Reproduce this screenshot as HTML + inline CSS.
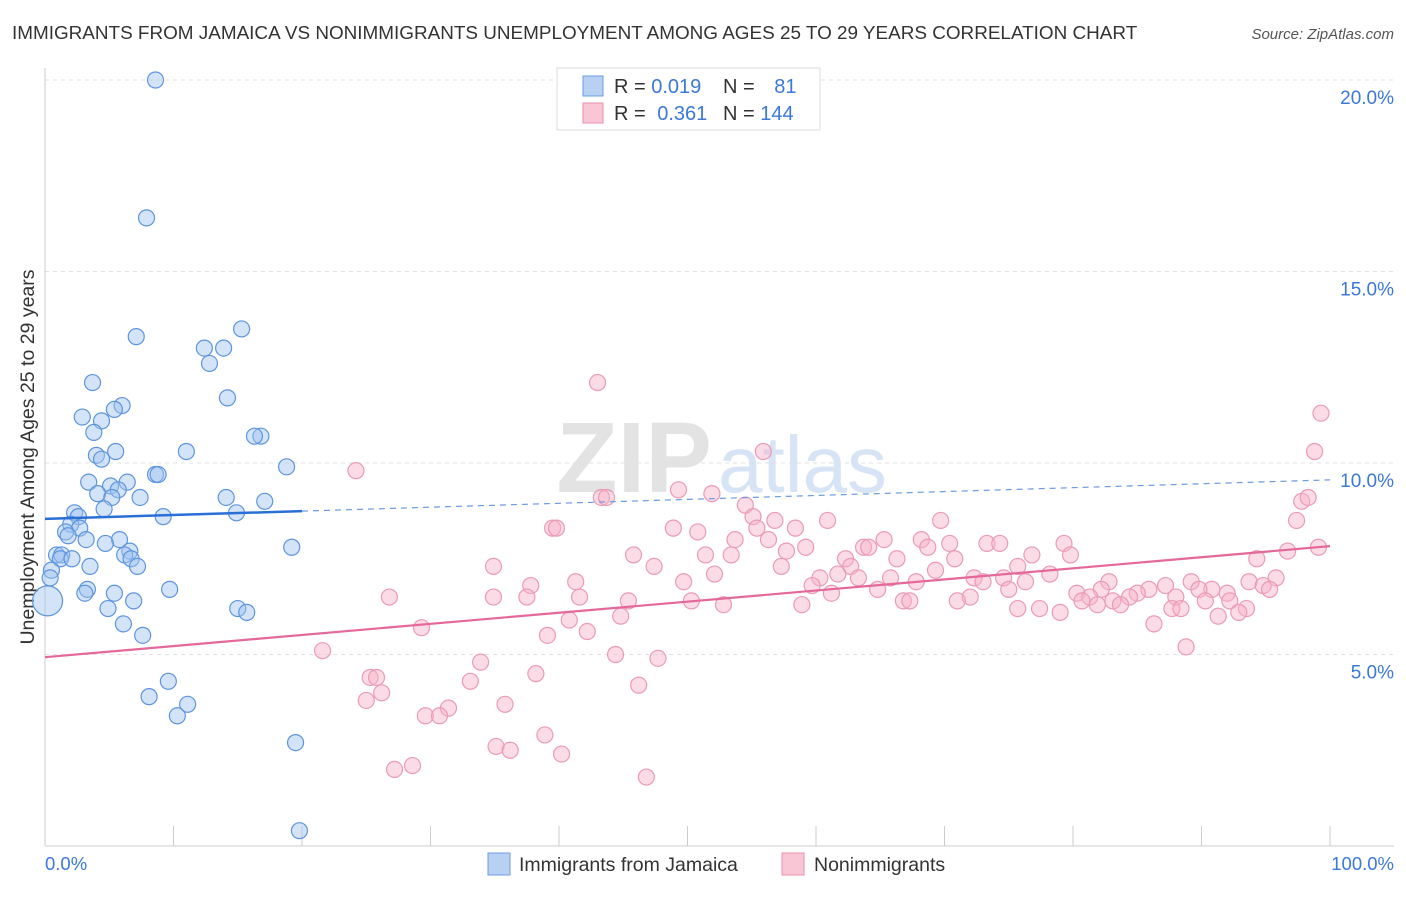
<!DOCTYPE html>
<html><head><meta charset="utf-8"><style>
body{margin:0;background:#fff;font-family:"Liberation Sans",sans-serif;}
svg text{font-family:"Liberation Sans",sans-serif;}
</style></head><body>
<svg width="1406" height="892" id="chart">
<text x="12" y="39" font-size="18.9" fill="#333">IMMIGRANTS FROM JAMAICA VS NONIMMIGRANTS UNEMPLOYMENT AMONG AGES 25 TO 29 YEARS CORRELATION CHART</text>
<text x="1394" y="39" font-size="15" fill="#555" font-style="italic" text-anchor="end">Source: ZipAtlas.com</text>
<text x="712" y="492" font-size="100" fill="#e3e3e3" text-anchor="end" font-family="Liberation Serif" font-weight="bold">ZIP</text>
<text x="718" y="492" font-size="80" fill="#d6e4f5">atlas</text>
<g id="grid"></g>
<line x1="45" y1="68" x2="45" y2="846" stroke="#ccc"/>
<line x1="45" y1="846" x2="1394" y2="846" stroke="#ccc"/>
<text x="34" y="457" font-size="19.5" fill="#333" text-anchor="middle" transform="rotate(-90 34 457)">Unemployment Among Ages 25 to 29 years</text>
<text x="45" y="870" font-size="18.5" fill="#3b78d8">0.0%</text>
<text x="1394" y="870" font-size="18.5" fill="#3b78d8" text-anchor="end">100.0%</text>
<g id="pts"></g>
<g id="trend"></g>
<g>
<rect x="557" y="68" width="263" height="62" fill="#fff" stroke="#ddd"/>
<rect x="583" y="76" width="20" height="20" fill="#b8d1f3" stroke="#6a9be0"/>
<rect x="583" y="103" width="20" height="20" fill="#f8c6d4" stroke="#ea8fab"/>
<text x="614" y="93" font-size="20" fill="#333">R = <tspan fill="#3b78d8">0.019</tspan></text>
<text x="723" y="93" font-size="20" fill="#333">N = <tspan fill="#3b78d8" dx="14">81</tspan></text>
<text x="614" y="120" font-size="20" fill="#333">R = <tspan fill="#3b78d8" dx="6">0.361</tspan></text>
<text x="723" y="120" font-size="20" fill="#333">N = <tspan fill="#3b78d8">144</tspan></text>
</g>
<g>
<rect x="488" y="853" width="22" height="22" fill="#b8d1f3" stroke="#6a9be0"/>
<text x="519" y="871" font-size="19.5" fill="#333">Immigrants from Jamaica</text>
<rect x="782" y="853" width="22" height="22" fill="#f8c6d4" stroke="#ea8fab"/>
<text x="814" y="871" font-size="19.5" fill="#333">Nonimmigrants</text>
</g>
</svg>
<script>
const yTicks=[5,10,15,20];
const xTicks=[10,20,30,40,50,60,70,80,90,100];
const blueX=[8.6,7.9,7.1,15.3,12.4,13.9,12.8,3.7,14.2,2.9,6.0,5.4,4.4,3.8,16.8,16.3,5.5,4.0,11.0,4.4,18.8,8.6,8.8,3.4,6.4,5.1,5.7,4.1,5.2,7.4,14.1,17.1,14.9,4.6,2.3,2.6,9.2,2.0,2.7,1.6,1.8,3.2,5.8,4.7,6.6,19.2,0.9,1.3,1.2,2.1,6.2,6.7,3.5,7.2,0.5,0.4,3.3,3.1,5.4,9.7,6.9,0.2,4.9,15.0,15.7,6.1,7.6,9.6,8.1,11.1,10.3,19.5,19.8];
const blueY=[20.0,16.4,13.3,13.5,13.0,13.0,12.6,12.1,11.7,11.2,11.5,11.4,11.1,10.8,10.7,10.7,10.3,10.2,10.3,10.1,9.9,9.7,9.7,9.5,9.5,9.4,9.3,9.2,9.1,9.1,9.1,9.0,8.7,8.8,8.7,8.6,8.6,8.4,8.3,8.2,8.1,8.0,8.0,7.9,7.7,7.8,7.6,7.6,7.5,7.5,7.6,7.5,7.3,7.3,7.2,7.0,6.7,6.6,6.6,6.7,6.4,6.4,6.2,6.2,6.1,5.8,5.5,4.3,3.9,3.7,3.4,2.7,0.4];
const pinkX=[43.0,99.3,98.8,55.9,24.2,43.3,43.7,49.3,51.9,97.8,98.3,54.5,55.1,56.8,60.9,69.7,97.4,39.5,39.8,48.9,50.8,55.4,58.4,53.7,56.3,65.3,68.2,73.3,74.3,79.3,59.2,57.7,63.7,64.1,68.7,70.4,96.7,99.1,45.8,51.4,53.4,62.3,66.3,70.8,76.8,79.8,94.3,34.9,47.4,57.3,62.7,69.3,75.7,52.1,61.7,78.2,95.8,49.7,60.3,63.3,65.8,67.8,72.3,74.6,76.3,37.8,41.3,59.7,73.0,82.8,89.2,93.7,94.8,90.8,82.2,85.9,87.2,95.3,75,26.8,34.9,37.5,41.6,50.3,61.2,64.8,72.0,80.3,81.3,85,89.8,84.4,92,71.0,80.7,83.1,88,45.4,58.9,66.8,67.3,92.2,52.8,90.3,81.9,83.7,93.5,75.7,77.4,79,87.7,88.4,91.3,92.9,40.8,44.8,86.3,29.3,42.2,39.1,88.8,21.6,44.4,47.7,33.9,38.2,25.3,25.8,33.1,46.2,25.0,26.2,35.8,31.4,29.6,30.7,38.9,35.1,36.2,40.2,28.6,27.2,46.8];
const pinkY=[12.1,11.3,10.3,10.3,9.8,9.1,9.1,9.3,9.2,9.0,9.1,8.9,8.6,8.5,8.5,8.5,8.5,8.3,8.3,8.3,8.2,8.3,8.3,8.0,8.0,8.0,8.0,7.9,7.9,7.9,7.8,7.7,7.8,7.8,7.8,7.9,7.7,7.8,7.6,7.6,7.6,7.5,7.5,7.5,7.6,7.6,7.5,7.3,7.3,7.3,7.3,7.2,7.3,7.1,7.1,7.1,7.0,6.9,7.0,7.0,7.0,6.9,7.0,7.0,6.9,6.8,6.9,6.8,6.9,6.9,6.9,6.9,6.8,6.7,6.7,6.7,6.8,6.7,6.7,6.5,6.5,6.5,6.5,6.4,6.6,6.7,6.5,6.6,6.5,6.6,6.7,6.5,6.6,6.4,6.4,6.4,6.5,6.4,6.3,6.4,6.4,6.4,6.3,6.4,6.3,6.3,6.2,6.2,6.2,6.1,6.2,6.2,6.0,6.1,5.9,6.0,5.8,5.7,5.6,5.5,5.2,5.1,5.0,4.9,4.8,4.5,4.4,4.4,4.3,4.2,3.8,4.0,3.7,3.6,3.4,3.4,2.9,2.6,2.5,2.4,2.1,2.0,1.8];
const blueTrend=[8.54,9.56];
const pinkTrend=[4.93,7.83];
const NS='http://www.w3.org/2000/svg';
const X0=45,X1=1330,Y0=846,PX=38.3;
function sx(v){return X0+(X1-X0)*v/100;}
function sy(v){return Y0-v*PX;}
function mk(t,a,p){const e=document.createElementNS(NS,t);for(const k in a)e.setAttribute(k,a[k]);p.appendChild(e);return e;}
const grid=document.getElementById('grid');
yTicks.forEach(t=>{
 const l=mk('line',{x1:45,x2:1394,y1:sy(t),y2:sy(t),stroke:'#e2e2e2','stroke-dasharray':'4,4'},grid);
 
 
 const tx=mk('text',{x:1394,y:sy(t)+24,'font-size':19,fill:'#3b78d8','text-anchor':'end'},grid);
 tx.textContent=t.toFixed(1)+'%';
 
 
});
xTicks.forEach(t=>{
 const l=mk('line',{x1:sx(t),x2:sx(t),y1:826,y2:846,stroke:'#ccc'},grid);
 
 
});
const pts=document.getElementById('pts');
pinkX.forEach((x,i)=>{
 const c=mk('circle',{cx:sx(x),cy:sy(pinkY[i]),r:8,fill:'rgba(246,178,200,0.45)',stroke:'#eb9ab5','stroke-width':1.2},pts);
 
 
});
blueX.forEach((x,i)=>{
 const c=mk('circle',{cx:sx(x),cy:sy(blueY[i]),r:i==61?15:8,fill:'rgba(160,196,240,0.45)',stroke:'#5d94de','stroke-width':1.2},pts);
 
 
});
const tr=document.getElementById('trend');
const bm=blueTrend[0]+(blueTrend[1]-blueTrend[0])*0.2;
const b1=mk('line',{x1:sx(0),y1:sy(blueTrend[0]),x2:sx(20),y2:sy(bm),stroke:'#2a6fd6','stroke-width':2.5},tr);


const b2=mk('line',{x1:sx(20),y1:sy(bm),x2:sx(100),y2:sy(blueTrend[1]),stroke:'#6a9be0','stroke-width':1.2,'stroke-dasharray':'6,5'},tr);


const p1=mk('line',{x1:sx(0),y1:sy(pinkTrend[0]),x2:sx(100),y2:sy(pinkTrend[1]),stroke:'#e4689a','stroke-width':2.2},tr);


</script>
</body></html>
